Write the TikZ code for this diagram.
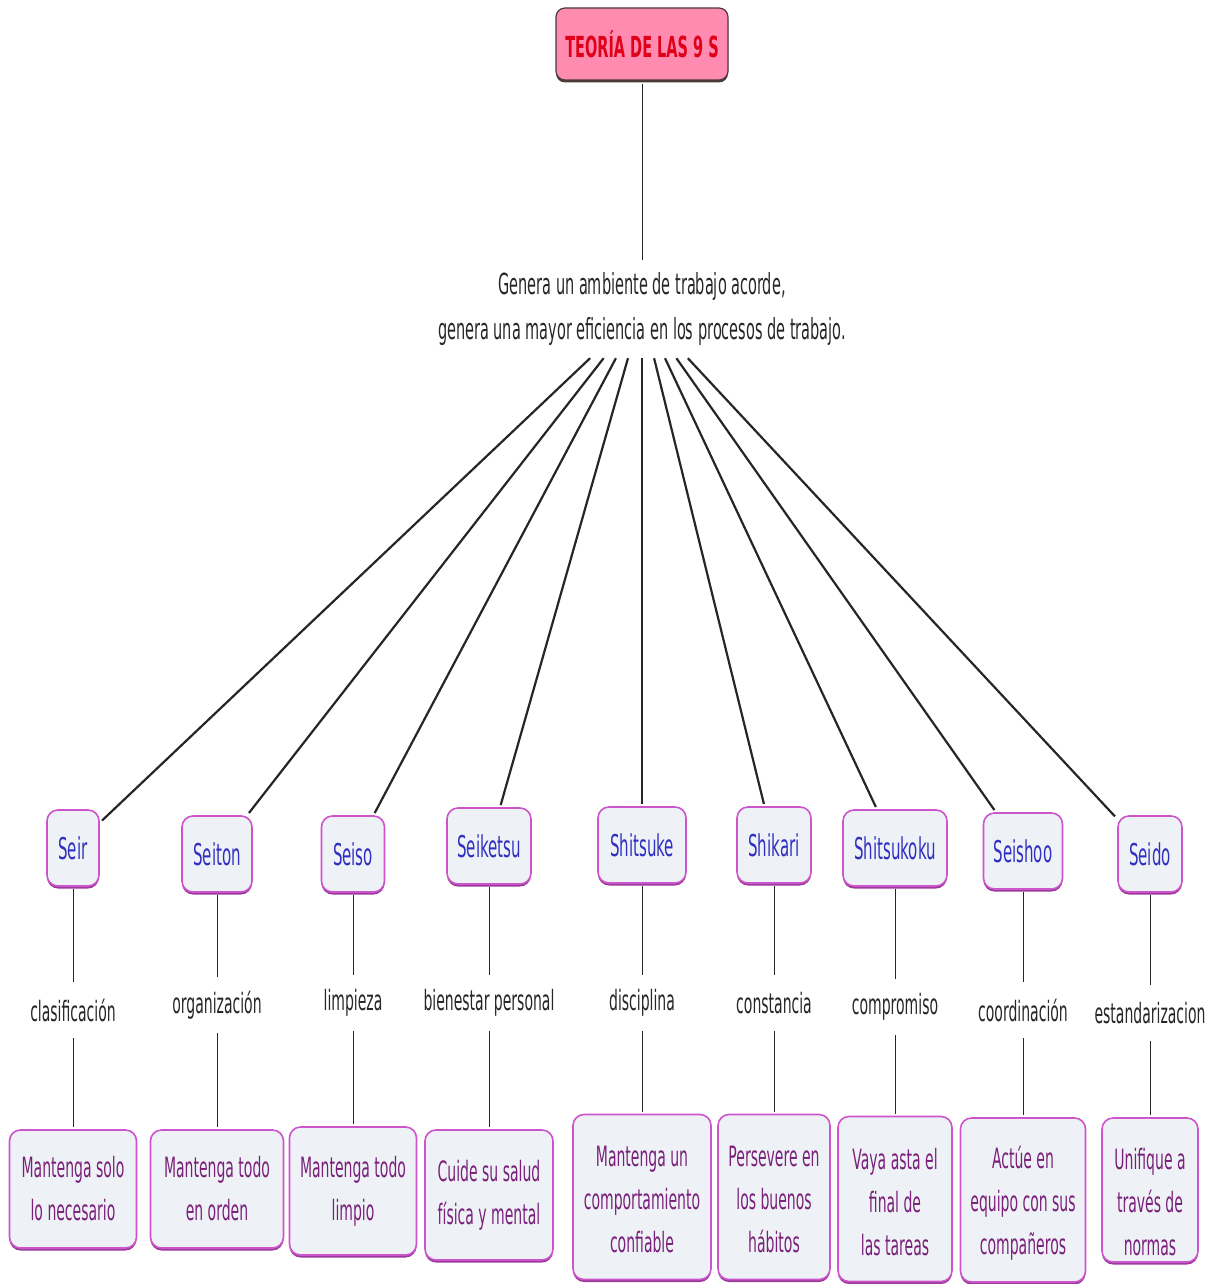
\documentclass[tikz,border=0pt]{standalone}
\usepackage{fontspec}
\newfontfamily\nf[FakeStretch=0.5]{DejaVu Sans}
\usetikzlibrary{shadows}
\definecolor{boxfill}{HTML}{EEF2F6}
\definecolor{boxline}{HTML}{CC55CC}
\definecolor{boxshade}{HTML}{9A3A9A}
\definecolor{sblue}{HTML}{3030C0}
\definecolor{purpletext}{HTML}{7A207A}
\definecolor{titlefill}{HTML}{FF8CB0}
\definecolor{titletext}{HTML}{E0001A}
\definecolor{titleline}{HTML}{4A3A3A}
\begin{document}
\begin{tikzpicture}[x=1pt,y=-1pt,
  box/.style={draw=boxline, line width=1.6pt, fill=boxfill, rounded corners=11pt,
    drop shadow={shadow xshift=0pt, shadow yshift=-2.5pt, fill=boxshade, opacity=1},
    inner sep=0pt, outer sep=3pt},
  snode/.style={box, text=sblue, font=\nf\fontsize{30}{34}\selectfont, minimum height=76pt},
  dnode/.style={box, text=purpletext, font=\nf\fontsize{28}{43}\selectfont, align=center},
  phrase/.style={font=\nf\fontsize{28}{32}\selectfont, text=black!85, minimum height=56pt, inner sep=0pt},
  titlebox/.style={draw=titleline, line width=1.2pt, fill=titlefill, rounded corners=9pt,
    drop shadow={shadow xshift=0pt, shadow yshift=-2.5pt, fill=titleline, opacity=1},
    text=titletext, font=\nf\bfseries\fontsize{29}{33}\selectfont,
    minimum width=172pt, minimum height=72pt, inner sep=0pt, outer sep=4pt},
  link/.style={draw=black!85, line width=1pt},
  spoke/.style={draw=black!85, line width=2.2pt},
]
\useasboundingbox (0,0) rectangle (1216,1284);

% root and main statement
\node[titlebox] (t) at (642,44) {TEORÍA DE LAS 9 S};
\node[font=\nf\fontsize{29}{45}\selectfont, text=black!85, align=center, minimum width=420pt,
      minimum height=98pt, inner sep=0pt] (gen) at (642,309)
  {Genera un ambiente de trabajo acorde,\\ genera una mayor eficiencia en los procesos de trabajo.};
\draw[link] (t) -- (gen);

% the nine S
\node[snode, minimum width=52pt]  (s1) at (73,848)   {Seir};
\node[snode, minimum width=70pt]  (s2) at (217,854)  {Seiton};
\node[snode, minimum width=63pt]  (s3) at (353,854)  {Seiso};
\node[snode, minimum width=84pt]  (s4) at (489,846)  {Seiketsu};
\node[snode, minimum width=88pt]  (s5) at (642,845)  {Shitsuke};
\node[snode, minimum width=74pt]  (s6) at (774,845)  {Shikari};
\node[snode, minimum width=104pt] (s7) at (895,848)  {Shitsukoku};
\node[snode, minimum width=79pt]  (s8) at (1023,851) {Seishoo};
\node[snode, minimum width=64pt]  (s9) at (1150,854) {Seido};

% linking phrases
\node[phrase] (p1) at (73,1010)   {clasificación};
\node[phrase] (p2) at (217,1005)  {organización};
\node[phrase] (p3) at (353,1003)  {limpieza};
\node[phrase] (p4) at (489,1003)  {bienestar personal};
\node[phrase] (p5) at (642,1003)  {disciplina};
\node[phrase] (p6) at (774,1003)  {constancia};
\node[phrase] (p7) at (895,1007)  {compromiso};
\node[phrase] (p8) at (1023,1010) {coordinación};
\node[phrase] (p9) at (1150,1013) {estandarizacion};

% descriptions
\node[dnode, minimum width=127pt, minimum height=118pt] (d1) at (73,1189)   {Mantenga solo\\lo necesario};
\node[dnode, minimum width=133pt, minimum height=118pt] (d2) at (217,1189)  {Mantenga todo\\en orden};
\node[dnode, minimum width=127pt, minimum height=128pt] (d3) at (353,1191)  {Mantenga todo\\limpio};
\node[dnode, minimum width=128pt, minimum height=130pt] (d4) at (489,1195)  {Cuide su salud\\física y mental};
\node[dnode, minimum width=138pt, minimum height=165pt] (d5) at (642,1197)  {\rule{0pt}{25pt}Mantenga un\\comportamiento\\confiable};
\node[dnode, minimum width=112pt, minimum height=165pt] (d6) at (774,1197)  {\rule{0pt}{25pt}Persevere en\\los buenos\\hábitos};
\node[dnode, minimum width=114pt, minimum height=165pt] (d7) at (895,1199)  {\rule{0pt}{28pt}Vaya asta el\\final de\\las tareas};
\node[dnode, minimum width=125pt, minimum height=164pt] (d8) at (1023,1200) {\rule{0pt}{29pt}Actúe en\\equipo con sus\\compañeros};
\node[dnode, minimum width=96pt,  minimum height=144pt] (d9) at (1150,1190) {\rule{0pt}{45pt}Unifique a\\través de\\normas};

% connectors
\foreach \i in {1,...,9} {
  \draw[spoke] (gen) -- (s\i);
  \draw[link] (s\i) -- (p\i);
  \draw[link] (p\i) -- (d\i);
}
\end{tikzpicture}
\end{document}
